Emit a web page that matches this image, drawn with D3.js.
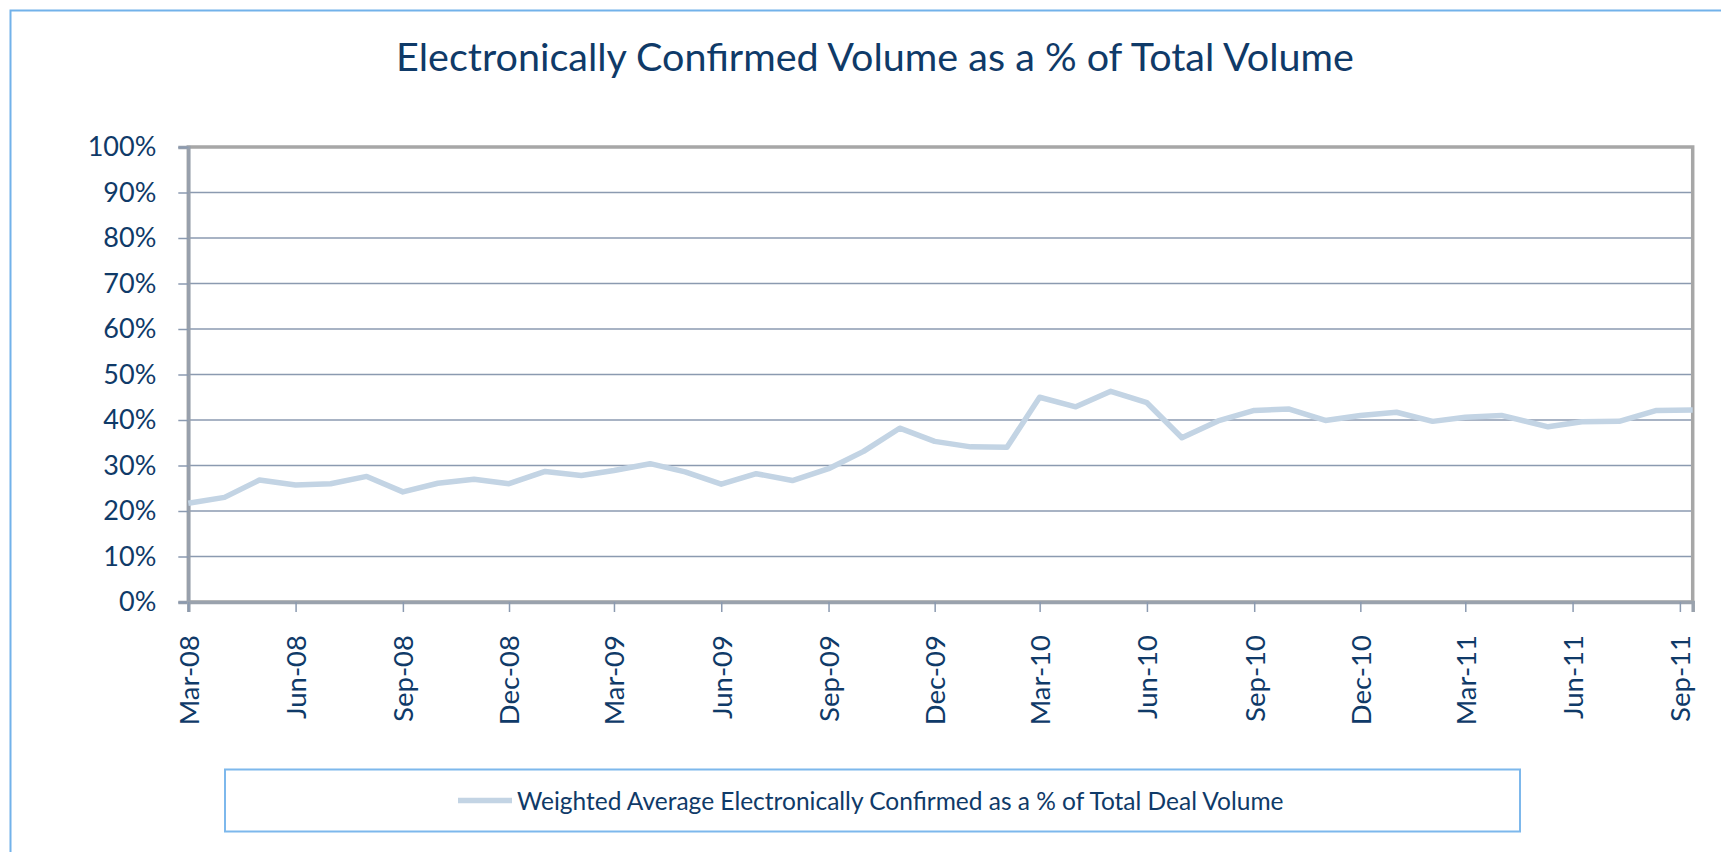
<!DOCTYPE html>
<html>
<head>
<meta charset="utf-8">
<script src="https://cdnjs.cloudflare.com/ajax/libs/d3/7.8.5/d3.min.js"></script>
<style>
  html, body { margin: 0; padding: 0; background: #ffffff; }
  svg { display: block; }
</style>
</head>
<body>
<svg id="chart" width="1721" height="852"></svg>
<script>
// ---- data ----
const titleText = "Electronically Confirmed Volume as a % of Total Volume";
const seriesName = "Weighted Average Electronically Confirmed as a % of Total Deal Volume";
const dates = [
  "2008-03-01","2008-04-01","2008-05-01","2008-06-01","2008-07-01","2008-08-01","2008-09-01","2008-10-01","2008-11-01","2008-12-01",
  "2009-01-01","2009-02-01","2009-03-01","2009-04-01","2009-05-01","2009-06-01","2009-07-01","2009-08-01","2009-09-01","2009-10-01","2009-11-01","2009-12-01",
  "2010-01-01","2010-02-01","2010-03-01","2010-04-01","2010-05-01","2010-06-01","2010-07-01","2010-08-01","2010-09-01","2010-10-01","2010-11-01","2010-12-01",
  "2011-01-01","2011-02-01","2011-03-01","2011-04-01","2011-05-11","2011-06-09","2011-07-11","2011-08-12","2011-09-12"
];
const values = [
  21.7, 23.0, 26.8, 25.7, 26.0, 27.6, 24.2, 26.1, 27.0, 26.0,
  28.7, 27.8, 28.9, 30.4, 28.6, 25.9, 28.2, 26.7, 29.3, 33.1, 38.2, 35.3,
  34.1, 34.0, 45.0, 42.9, 46.3, 43.8, 36.1, 39.8, 42.1, 42.4, 39.9, 41.0,
  41.7, 39.7, 40.6, 41.0, 38.5, 39.6, 39.7, 42.1, 42.2
];
const yTicks = [0, 10, 20, 30, 40, 50, 60, 70, 80, 90, 100];
const xTickDates = ["2008-03-01","2008-06-01","2008-09-01","2008-12-01","2009-03-01","2009-06-01","2009-09-01","2009-12-01",
  "2010-03-01","2010-06-01","2010-09-01","2010-12-01","2011-03-01","2011-06-01","2011-09-01"];
const xDomain = ["2008-03-01", "2011-09-12"];

// ---- layout ----
const plot = { left: 188.3, right: 1692.7, top: 147, bottom: 602 };
const font = "Lato, 'Open Sans', sans-serif";
const navy = "#0f3a68";

const svg = d3.select("#chart");
const parse = d3.utcParse("%Y-%m-%d");
const fmt = d3.utcFormat("%b-%y");

const x = d3.scaleUtc().domain(xDomain.map(parse)).range([plot.left, plot.right]);
const y = d3.scaleLinear().domain([0, 100]).range([plot.bottom, plot.top]);

// outer chart border
svg.append("rect")
  .attr("x", 10.5).attr("y", 10.5).attr("width", 1800).attr("height", 1000)
  .attr("fill", "none").attr("stroke", "#72b2ea").attr("stroke-width", 2);

// title
svg.append("text")
  .attr("x", 875).attr("y", 71)
  .attr("text-anchor", "middle")
  .attr("font-family", font).attr("font-size", 39.5)
  .attr("fill", navy)
  .text(titleText);

// gridlines
svg.append("g")
  .selectAll("line")
  .data(yTicks.filter(d => d > 0 && d < 100))
  .join("line")
  .attr("x1", plot.left).attr("x2", plot.right)
  .attr("y1", d => y(d)).attr("y2", d => y(d))
  .attr("stroke", "#8b9ab0").attr("stroke-width", 1.5);

// plot border
svg.append("rect")
  .attr("x", plot.left).attr("y", plot.top)
  .attr("width", plot.right - plot.left).attr("height", plot.bottom - plot.top)
  .attr("fill", "none").attr("stroke", "#a7a7a7").attr("stroke-width", 3.5);

// y axis
const yAxis = d3.axisLeft(y).tickValues(yTicks).tickSize(10).tickPadding(22)
  .tickFormat(d => d + "%");
const gy = svg.append("g").attr("transform", `translate(${plot.left},0)`).call(yAxis);
gy.select(".domain").attr("stroke", "#98a0ac").attr("stroke-width", 3.5);
gy.selectAll(".tick line").attr("stroke", "#8b9ab0").attr("stroke-width", 1.5);
gy.selectAll(".tick text")
  .attr("font-family", font).attr("font-size", 27).attr("fill", navy);

// x axis
const xAxis = d3.axisBottom(x).tickValues(xTickDates.map(parse)).tickSize(10).tickFormat(fmt);
const gx = svg.append("g").attr("transform", `translate(0,${plot.bottom})`).call(xAxis);
gx.select(".domain").attr("stroke", "#9aa2ad").attr("stroke-width", 3.5);
gx.selectAll(".tick line").attr("stroke", "#8b9ab0").attr("stroke-width", 1.5);
gx.selectAll(".tick text")
  .attr("font-family", font).attr("font-size", 27.5).attr("fill", navy)
  .attr("text-anchor", "end")
  .attr("transform", "rotate(-90)")
  .attr("x", -33).attr("y", 0).attr("dy", "0.36em");

// line
const line = d3.line()
  .x((d, i) => x(parse(dates[i])))
  .y(d => y(d));
svg.append("path")
  .datum(values)
  .attr("d", line)
  .attr("fill", "none")
  .attr("stroke", "#c3d4e4")
  .attr("stroke-width", 5.5)
  .attr("stroke-linejoin", "round")
  .attr("stroke-linecap", "butt");

// legend
const lg = svg.append("g");
lg.append("rect")
  .attr("x", 225).attr("y", 769.5).attr("width", 1295).attr("height", 62)
  .attr("fill", "#ffffff").attr("stroke", "#7db8ec").attr("stroke-width", 2);
lg.append("line")
  .attr("x1", 458).attr("x2", 512).attr("y1", 800.5).attr("y2", 800.5)
  .attr("stroke", "#c3d4e4").attr("stroke-width", 5.5);
lg.append("text")
  .attr("x", 517).attr("y", 801)
  .attr("dy", "0.35em")
  .attr("font-family", font).attr("font-size", 24.5)
  .attr("fill", navy)
  .text(seriesName);
</script>
</body>
</html>
